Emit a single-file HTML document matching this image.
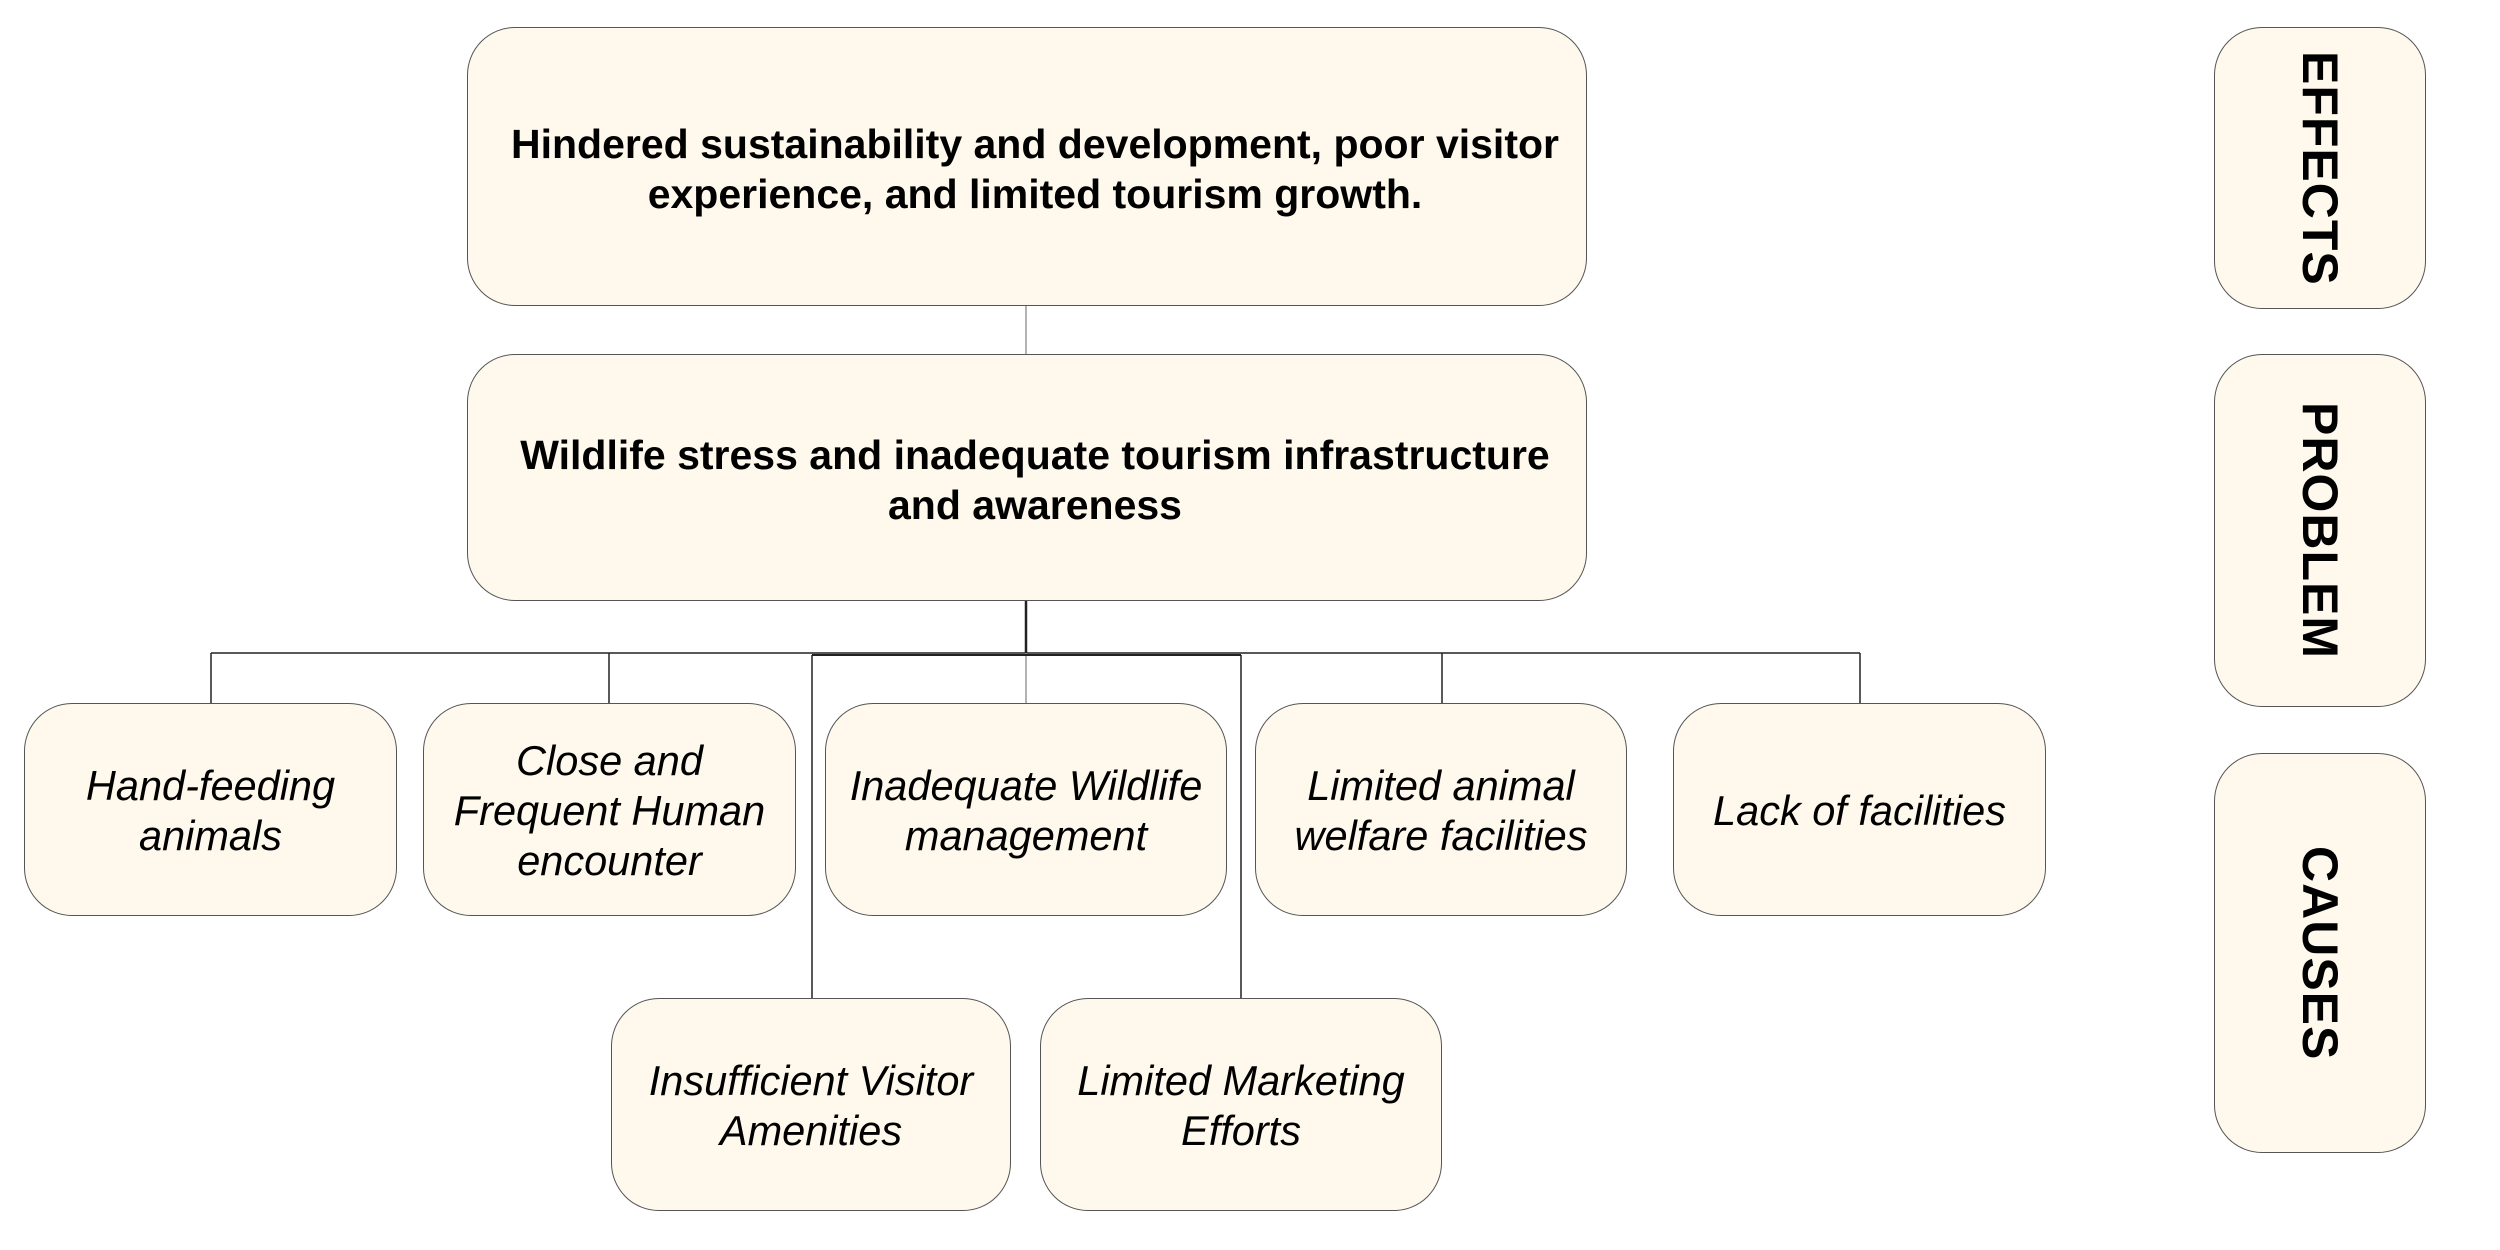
<!DOCTYPE html>
<html><head><meta charset="utf-8"><style>
html,body{margin:0;padding:0;background:#fff;width:2500px;height:1250px;overflow:hidden;font-family:"Liberation Sans",sans-serif}
.box{position:absolute;box-sizing:border-box;background:#fef9ec;border:1.5px solid #555;border-radius:48px;display:flex;align-items:center;justify-content:center;text-align:center;color:#000}
.big{font-weight:bold;font-size:41px;line-height:50px;padding-top:4px;padding-left:16px}
.cause{font-style:italic;font-size:41.5px;line-height:50px;padding-top:3px}
.side{font-weight:bold;font-size:50px;writing-mode:vertical-rl;letter-spacing:1px}
svg{position:absolute;left:0;top:0}
</style></head><body>
<svg width="2500" height="1250">
<g stroke="#222" stroke-width="1.5" fill="none">
<line x1="1026" y1="306" x2="1026" y2="354" stroke="#999"/>
<line x1="1026" y1="601" x2="1026" y2="653" stroke-width="2.5"/>
<line x1="211" y1="653" x2="1860" y2="653"/>
<line x1="211" y1="653" x2="211" y2="703"/>
<line x1="609" y1="653" x2="609" y2="703"/>
<line x1="1026" y1="653" x2="1026" y2="703" stroke="#999"/>
<line x1="1442" y1="653" x2="1442" y2="703"/>
<line x1="1860" y1="653" x2="1860" y2="703"/>
<line x1="812" y1="655" x2="812" y2="998"/>
<line x1="1241" y1="655" x2="1241" y2="998"/>
<line x1="812" y1="655" x2="1241" y2="655" stroke-width="2"/>
</g></svg>
<div class="box big" style="left:467px;top:27px;width:1120px;height:279px">Hindered sustainability and development, poor visitor<br>experience, and limited tourism growth.</div>
<div class="box big" style="left:467px;top:354px;width:1120px;height:247px">Wildlife stress and inadequate tourism infrastructure<br>and awareness</div>
<div class="box cause" style="left:24px;top:703px;width:373px;height:213px">Hand-feeding<br>animals</div>
<div class="box cause" style="left:423px;top:703px;width:373px;height:213px">Close and<br>Frequent Human<br>encounter</div>
<div class="box cause" style="left:825px;top:703px;width:402px;height:213px">Inadequate Wildlife<br>management</div>
<div class="box cause" style="left:1255px;top:703px;width:372px;height:213px">Limited animal<br>welfare facilities</div>
<div class="box cause" style="left:1673px;top:703px;width:373px;height:213px">Lack of facilities</div>
<div class="box cause" style="left:611px;top:998px;width:400px;height:213px">Insufficient Visitor<br>Amenities</div>
<div class="box cause" style="left:1040px;top:998px;width:402px;height:213px">Limited Marketing<br>Efforts</div>
<div class="box side" style="left:2214px;top:27px;width:212px;height:282px">EFFECTS</div>
<div class="box side" style="left:2214px;top:354px;width:212px;height:353px">PROBLEM</div>
<div class="box side" style="left:2214px;top:753px;width:212px;height:400px">CAUSES</div>
</body></html>
